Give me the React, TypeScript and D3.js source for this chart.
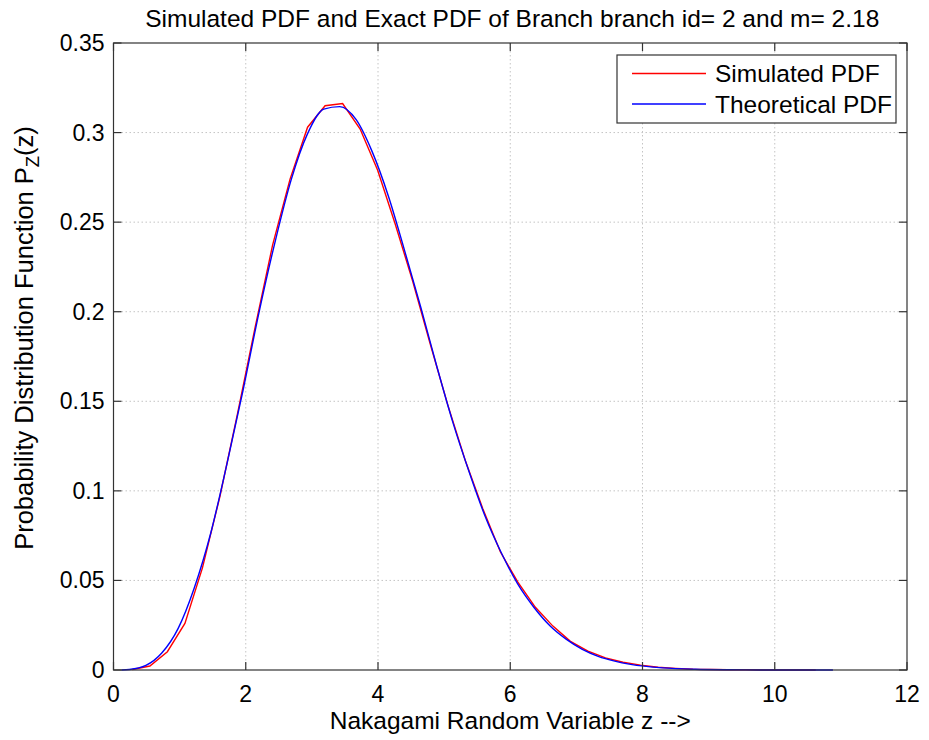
import React from "react";
import * as d3 from "d3";

const title = "Simulated PDF and Exact PDF of Branch branch id= 2 and m= 2.18";
const xLabel = "Nakagami Random Variable z -->";
const seriesNames = ["Simulated PDF", "Theoretical PDF"];
const xTicks = [0, 2, 4, 6, 8, 10, 12];
const yTicks = [0, 0.05, 0.1, 0.15, 0.2, 0.25, 0.3, 0.35];
const yTickLabels = ["0", "0.05", "0.1", "0.15", "0.2", "0.25", "0.3", "0.35"];

// Simulated PDF (histogram-based estimate)
const simZ = [0.285, 0.55, 0.815, 1.08, 1.345, 1.61, 1.875, 2.14, 2.405, 2.67, 2.935, 3.2, 3.465, 3.73, 3.995, 4.26, 4.525, 4.79, 5.055, 5.32, 5.585, 5.85, 6.115, 6.38, 6.645, 6.91, 7.175, 7.44, 7.705, 7.97, 8.235, 8.5, 8.765, 9.03, 9.295, 9.56, 9.825, 10.09, 10.355, 10.62];
const simP = [0.0003, 0.0022, 0.0102, 0.026, 0.057, 0.097, 0.143, 0.191, 0.237, 0.274, 0.303, 0.315, 0.3162, 0.302, 0.279, 0.249, 0.217, 0.182, 0.148, 0.117, 0.09, 0.066, 0.049, 0.035, 0.0245, 0.016, 0.0105, 0.0068, 0.0043, 0.0027, 0.0015, 0.0009, 0.0004, 0.0003, 0.0001, 0.0001, 0, 0, 0, 0];

// Theoretical PDF
const theoZ = [0.12, 0.24, 0.49, 0.73, 0.98, 1.22, 1.47, 1.71, 1.96, 2.2, 2.45, 2.69, 2.93, 3.18, 3.42, 3.67, 3.91, 4.16, 4.4, 4.65, 4.89, 5.13, 5.38, 5.62, 5.87, 6.11, 6.36, 6.6, 6.85, 7.09, 7.33, 7.58, 7.82, 8.31, 8.8, 9.29, 9.78, 10.27, 10.76, 10.88];
const theoP = [0.00002, 0.00025, 0.00253, 0.00946, 0.02337, 0.04564, 0.07635, 0.1141, 0.1563, 0.1995, 0.24, 0.274, 0.299, 0.3131, 0.3145, 0.3072, 0.2895, 0.2642, 0.2344, 0.2021, 0.1694, 0.1385, 0.1104, 0.0858, 0.065, 0.0482, 0.0349, 0.0247, 0.0171, 0.01155, 0.00765, 0.00495, 0.00314, 0.00119, 0.00041, 0.00013, 0.00004, 0.00001, 0.000003, 0.000002];

const W = 929;
const H = 740;
const M = { left: 113.5, right: 907, top: 43, bottom: 670 };
const FONT = "Liberation Sans, Arial, Helvetica, sans-serif";

export default function App() {
  const x = d3.scaleLinear().domain([0, 12]).range([M.left, M.right]);
  const y = d3.scaleLinear().domain([0, 0.35]).range([M.bottom, M.top]);
  const line = d3
    .line<[number, number]>()
    .x((d) => x(d[0]))
    .y((d) => y(d[1]));
  const simPath = line(simZ.map((z, i) => [z, simP[i]] as [number, number])) || "";
  const theoPath = line
    .curve(d3.curveMonotoneX)(theoZ.map((z, i) => [z, theoP[i]] as [number, number])) || "";
  const axisColor = "#333";
  const tickLen = 8;
  const fsTick = 23;
  const fs = 24.5;
  const fsY = 25.5;
  const lg = { x0: 617, y0: 55, x1: 896, y1: 123 };

  return (
    <svg width={W} height={H} style={{ position: "absolute", left: 0, top: 0, background: "#fff" }} fontFamily={FONT}>
      <rect x={0} y={0} width={W} height={H} fill="#fff" />
      {/* grid */}
      <g stroke="#c4c4c4" strokeWidth={1} strokeDasharray="1.5 2.5">
        {xTicks.slice(1, -1).map((t) => (
          <line key={"gx" + t} x1={x(t)} x2={x(t)} y1={M.top} y2={M.bottom} />
        ))}
        {yTicks.slice(1, -1).map((t) => (
          <line key={"gy" + t} x1={M.left} x2={M.right} y1={y(t)} y2={y(t)} />
        ))}
      </g>
      {/* data */}
      <path d={simPath} fill="none" stroke="#ff0000" strokeWidth={1.4} />
      <path d={theoPath} fill="none" stroke="#0000ff" strokeWidth={1.4} />
      {/* axes box */}
      <rect x={M.left} y={M.top} width={M.right - M.left} height={M.bottom - M.top} fill="none" stroke={axisColor} strokeWidth={1.2} />
      {/* ticks */}
      <g stroke={axisColor} strokeWidth={1.2}>
        {xTicks.map((t) => (
          <g key={"tx" + t}>
            <line x1={x(t)} x2={x(t)} y1={M.bottom} y2={M.bottom - tickLen} />
            <line x1={x(t)} x2={x(t)} y1={M.top} y2={M.top + tickLen} />
          </g>
        ))}
        {yTicks.map((t) => (
          <g key={"ty" + t}>
            <line x1={M.left} x2={M.left + tickLen} y1={y(t)} y2={y(t)} />
            <line x1={M.right} x2={M.right - tickLen} y1={y(t)} y2={y(t)} />
          </g>
        ))}
      </g>
      {/* tick labels */}
      <g fontSize={fsTick} fill="#000">
        {xTicks.map((t) => (
          <text key={"lx" + t} x={x(t)} y={M.bottom + 32} textAnchor="middle">
            {String(t)}
          </text>
        ))}
        {yTicks.map((t, i) => (
          <text key={"ly" + t} x={M.left - 9} y={y(t) + 8} textAnchor="end">
            {yTickLabels[i]}
          </text>
        ))}
      </g>
      {/* title */}
      <text x={(M.left + M.right) / 2 + 2} y={27} textAnchor="middle" fontSize={fs}>
        {title}
      </text>
      {/* x label */}
      <text x={(M.left + M.right) / 2} y={729} textAnchor="middle" fontSize={fs}>
        {xLabel}
      </text>
      {/* y label */}
      <text transform={`translate(33, 338) rotate(-90)`} textAnchor="middle" fontSize={fsY}>
        Probability Distribution Function P
        <tspan fontSize={fsY * 0.72} dy={6}>Z</tspan>
        <tspan dy={-6}>(z)</tspan>
      </text>
      {/* legend */}
      <rect x={lg.x0} y={lg.y0} width={lg.x1 - lg.x0} height={lg.y1 - lg.y0} fill="#fff" stroke={axisColor} strokeWidth={1.2} />
      <line x1={632} x2={706} y1={73.5} y2={73.5} stroke="#ff0000" strokeWidth={1.4} />
      <line x1={632} x2={706} y1={104} y2={104} stroke="#0000ff" strokeWidth={1.4} />
      <text x={715} y={82} fontSize={fs}>{seriesNames[0]}</text>
      <text x={715} y={112.5} fontSize={fs}>{seriesNames[1]}</text>
    </svg>
  );
}
